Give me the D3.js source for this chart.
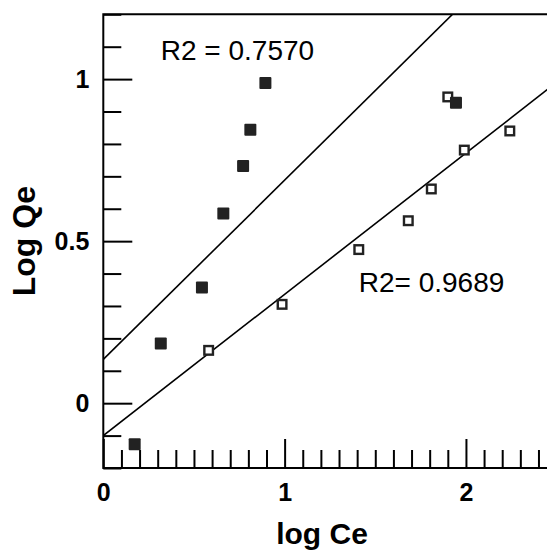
<!DOCTYPE html>
<html>
<head>
<meta charset="utf-8">
<script src="https://cdn.jsdelivr.net/npm/d3@7"></script>
<style>
  body { margin: 0; background: #fff; }
  svg { display: block; font-family: "Liberation Sans", Arial, sans-serif; }
</style>
</head>
<body>
<div id="chart"></div>
<script>
// filled squares (first series)
const filledX = [0.173, 0.317, 0.544, 0.662, 0.771, 0.811, 0.894, 1.945];
const filledY = [-0.127, 0.184, 0.357, 0.585, 0.732, 0.844, 0.988, 0.927];
// open squares (second series)
const openX = [0.581, 0.986, 1.409, 1.682, 1.809, 1.991, 1.900, 2.242];
const openY = [0.163, 0.305, 0.474, 0.563, 0.661, 0.781, 0.945, 0.840];
// fitted lines: intercept, slope
const fitIntercepts = [0.135, -0.100];
const fitSlopes = [0.553, 0.436];
const fitLabels = ["R2 = 0.7570", "R2= 0.9689"];
const xMajorTicks = [0, 1, 2];
const yMajorTicks = [0, 0.5, 1];

const width = 547, height = 551;
const marginLeft = 103.3, marginTop = 14.3, plotW = 453.3, plotH = 453.7;

const svg = d3.select("#chart").append("svg")
  .attr("width", width)
  .attr("height", height);

const x = d3.scaleLinear().domain([0, 2.5]).range([marginLeft, marginLeft + plotW]);
const y = d3.scaleLinear().domain([-0.2, 1.2]).range([marginTop + plotH, marginTop]);

const xMinor = d3.range(1, 25).filter(d => d % 10 !== 0).map(d => d / 10);
const yMinor = d3.range(-2, 13).filter(d => d % 5 !== 0).map(d => d / 10);

svg.append("clipPath").attr("id", "plot")
  .append("rect")
  .attr("x", marginLeft).attr("y", marginTop)
  .attr("width", plotW).attr("height", plotH);

// minor ticks
svg.append("g")
  .attr("transform", `translate(0,${marginTop + plotH})`)
  .call(d3.axisBottom(x).tickValues(xMinor).tickSize(-18).tickFormat(""))
  .call(g => g.select(".domain").remove());
svg.append("g")
  .attr("transform", `translate(${marginLeft},0)`)
  .call(d3.axisLeft(y).tickValues(yMinor).tickSize(-18).tickFormat(""))
  .call(g => g.select(".domain").remove());

// major ticks with labels
svg.append("g")
  .attr("transform", `translate(0,${marginTop + plotH})`)
  .call(d3.axisBottom(x).tickValues(xMajorTicks).tickSize(-29).tickPadding(15).tickFormat(d3.format("")))
  .call(g => g.select(".domain").remove())
  .call(g => g.selectAll("text").attr("font-size", 25).attr("font-weight", "bold")
    .attr("fill", "#000").attr("font-family", "Liberation Sans, Arial, sans-serif"));
svg.append("g")
  .attr("transform", `translate(${marginLeft},0)`)
  .call(d3.axisLeft(y).tickValues(yMajorTicks).tickSize(-29).tickPadding(14).tickFormat(d3.format("")))
  .call(g => g.select(".domain").remove())
  .call(g => g.selectAll("text").attr("font-size", 25).attr("font-weight", "bold")
    .attr("fill", "#000").attr("font-family", "Liberation Sans, Arial, sans-serif"));

svg.selectAll(".tick line").attr("stroke", "#000").attr("stroke-width", 2);

// frame lines: left, bottom, top
svg.append("path")
  .attr("d", `M${x(2.5)},${y(1.2)}H${x(0)}V${y(-0.2)}H${x(2.5)}`)
  .attr("fill", "none")
  .attr("stroke", "#000")
  .attr("stroke-width", 2);

// regression lines
svg.append("g").attr("clip-path", "url(#plot)")
  .selectAll("line")
  .data(fitIntercepts)
  .enter()
  .append("line")
  .attr("x1", x(0))
  .attr("y1", (d, i) => y(d))
  .attr("x2", x(2.5))
  .attr("y2", (d, i) => y(d + fitSlopes[i] * 2.5))
  .attr("stroke", "#000")
  .attr("stroke-width", 1.6);

// open squares
const s = 11;
svg.append("g")
  .selectAll("rect")
  .data(openX)
  .enter()
  .append("rect")
  .attr("x", (d, i) => x(d) - (s - 2.4) / 2)
  .attr("y", (d, i) => y(openY[i]) - (s - 2.4) / 2)
  .attr("width", s - 2.4)
  .attr("height", s - 2.4)
  .attr("fill", "#fff")
  .attr("stroke", "#222")
  .attr("stroke-width", 2.4);

// filled squares
svg.append("g")
  .selectAll("rect")
  .data(filledX)
  .enter()
  .append("rect")
  .attr("x", (d, i) => x(d) - 6)
  .attr("y", (d, i) => y(filledY[i]) - 6)
  .attr("width", 12)
  .attr("height", 12)
  .attr("rx", 1)
  .attr("fill", "#222");

// R2 labels
svg.append("text")
  .attr("x", x(0.317))
  .attr("y", y(1.058))
  .attr("font-size", 28)
  .text(fitLabels[0]);
svg.append("text")
  .attr("x", x(1.409))
  .attr("y", y(0.343))
  .attr("font-size", 28)
  .text(fitLabels[1]);

// axis titles
svg.append("text")
  .attr("x", 322)
  .attr("y", 544)
  .attr("text-anchor", "middle")
  .attr("font-size", 30)
  .attr("font-weight", "bold")
  .text("log Ce");
svg.append("text")
  .attr("transform", `translate(35,${marginTop + plotH / 2}) rotate(-90)`)
  .attr("text-anchor", "middle")
  .attr("font-size", 32)
  .attr("font-weight", "bold")
  .text("Log Qe");
</script>
</body>
</html>
